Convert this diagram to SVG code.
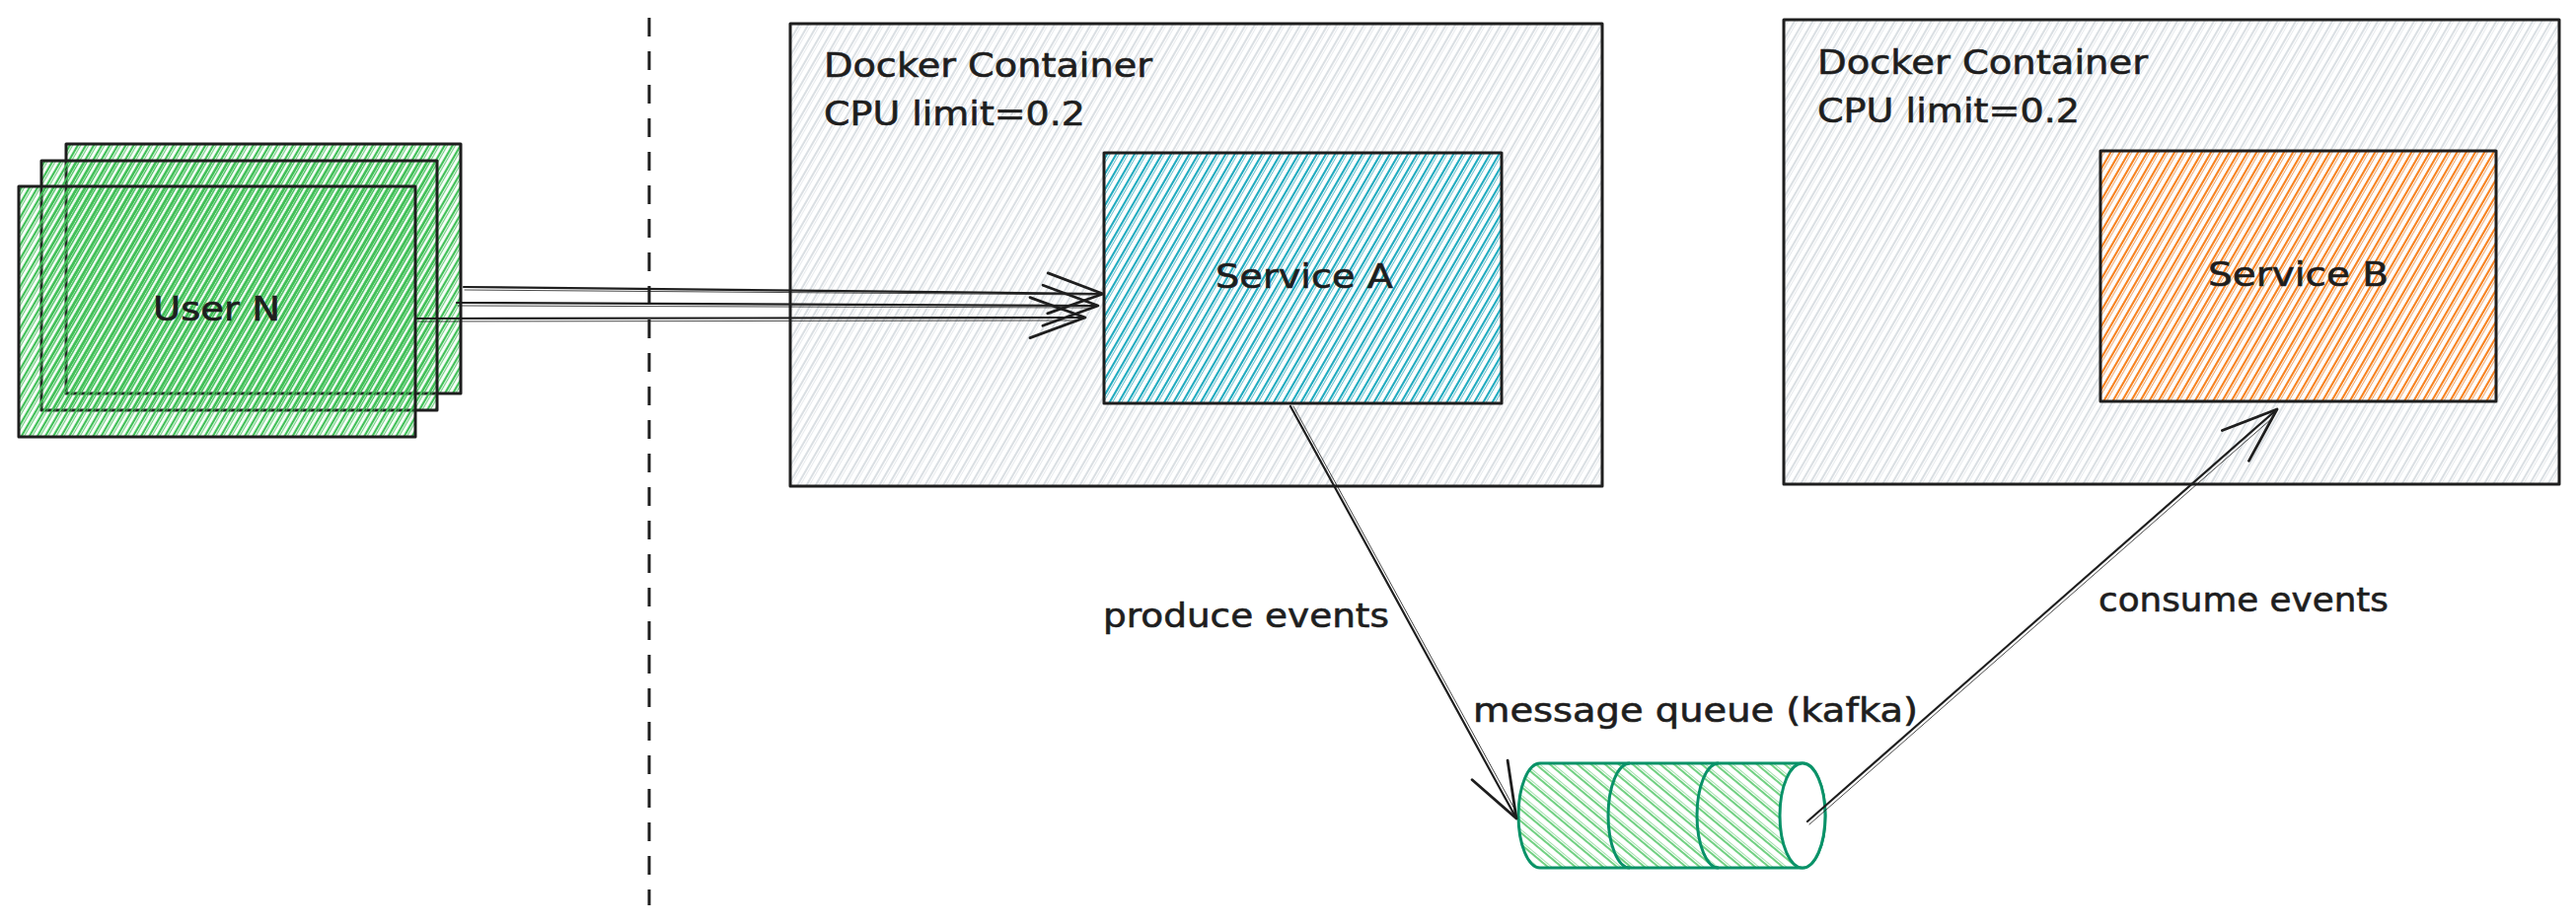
<svg xmlns="http://www.w3.org/2000/svg" width="2611" height="937" viewBox="0 0 2611 937">
<style>
.box{stroke:#1e1e1e;stroke-width:3;stroke-linejoin:round}
.lbl{font-family:"DejaVu Sans","Liberation Sans",sans-serif;font-size:33px;fill:#1e1e1e;stroke:#1e1e1e;stroke-width:0.6}
.con{fill:none;stroke:#1e1e1e;stroke-width:2.2;stroke-linecap:round}
.con2{fill:none;stroke:#1e1e1e;stroke-width:1;stroke-linecap:round;opacity:0.8}
.cyl{stroke:#099268;stroke-width:3;stroke-linejoin:round}
</style>
<defs>
<pattern id="hGray" width="8" height="8" patternUnits="userSpaceOnUse" patternTransform="rotate(30)">
<line x1="2" y1="0" x2="2" y2="8" stroke="#ced4da" stroke-width="1.5"/>
<line x1="4.4" y1="0" x2="4.4" y2="8" stroke="#ced4da" stroke-width="0.7" opacity="0.8"/>
</pattern>
<pattern id="hGreen" width="7" height="7" patternUnits="userSpaceOnUse" patternTransform="rotate(30)">
<line x1="2" y1="0" x2="2" y2="7" stroke="#40c057" stroke-width="2.3"/>
<line x1="4.6" y1="0" x2="4.6" y2="7" stroke="#40c057" stroke-width="1" opacity="0.8"/>
</pattern>
<pattern id="hCyan" width="8" height="8" patternUnits="userSpaceOnUse" patternTransform="rotate(30)">
<line x1="2" y1="0" x2="2" y2="8" stroke="#15aabf" stroke-width="1.9"/>
<line x1="4.6" y1="0" x2="4.6" y2="8" stroke="#15aabf" stroke-width="0.8" opacity="0.8"/>
</pattern>
<pattern id="hOrange" width="8" height="8" patternUnits="userSpaceOnUse" patternTransform="rotate(30)">
<line x1="2" y1="0" x2="2" y2="8" stroke="#fd7e14" stroke-width="1.9"/>
<line x1="4.6" y1="0" x2="4.6" y2="8" stroke="#fd7e14" stroke-width="0.8" opacity="0.8"/>
</pattern>
<pattern id="hCyl" width="9" height="9" patternUnits="userSpaceOnUse" patternTransform="rotate(-50)">
<line x1="2" y1="0" x2="2" y2="9" stroke="#40c057" stroke-width="1.5"/>
<line x1="4.5" y1="0" x2="4.5" y2="9" stroke="#40c057" stroke-width="0.7" opacity="0.7"/>
</pattern>
<marker id="ah" markerUnits="userSpaceOnUse" markerWidth="80" markerHeight="60" viewBox="-70 -30 80 60" refX="0" refY="0" orient="auto" overflow="visible">
<path d="M -56 -20.5 L 0 0 L -56 20.5" fill="none" stroke="#1e1e1e" stroke-width="2.8" stroke-linecap="round" stroke-linejoin="round"/>
</marker>
</defs>
<rect width="2611" height="937" fill="#ffffff"/>

<g id="divider">
<line x1="658" y1="18" x2="658" y2="918" stroke="#1e1e1e" stroke-width="3" stroke-dasharray="19 15"/>
</g>

<g id="containerA">
<rect class="box" x="801" y="24" width="823" height="469" fill="url(#hGray)"/>
<text class="lbl" x="835" y="78" textLength="333" lengthAdjust="spacingAndGlyphs">Docker Container</text>
<text class="lbl" x="835" y="127" textLength="265" lengthAdjust="spacingAndGlyphs">CPU limit=0.2</text>
</g>

<g id="containerB">
<rect class="box" x="1808" y="20" width="786" height="471" fill="url(#hGray)"/>
<text class="lbl" x="1842" y="75" textLength="335" lengthAdjust="spacingAndGlyphs">Docker Container</text>
<text class="lbl" x="1842" y="124" textLength="266" lengthAdjust="spacingAndGlyphs">CPU limit=0.2</text>
</g>

<g id="serviceA">
<rect class="box" x="1119" y="155" width="403" height="254" fill="url(#hCyan)"/>
<text class="lbl" x="1232" y="292" textLength="180" lengthAdjust="spacingAndGlyphs">Service A</text>
</g>

<g id="serviceB">
<rect class="box" x="2129" y="153" width="401" height="254" fill="url(#hOrange)"/>
<text class="lbl" x="2238" y="290" textLength="183" lengthAdjust="spacingAndGlyphs">Service B</text>
</g>

<g id="users">
<rect class="box" x="67" y="146" width="400" height="253" fill="url(#hGreen)"/>
<rect class="box" x="42" y="163" width="401" height="253" fill="url(#hGreen)"/>
<rect class="box" x="19" y="189" width="402" height="254" fill="url(#hGreen)"/>
<text class="lbl" x="155" y="325" textLength="129" lengthAdjust="spacingAndGlyphs">User N</text>
</g>

<g id="queue">
<path class="cyl" d="M 1561 774 L 1827 774 A 23 53 0 0 1 1827 880 L 1561 880 A 22 53 0 0 1 1561 774 Z" fill="url(#hCyl)"/>
<path class="cyl" d="M 1652 774 A 22 53 0 0 0 1652 880" fill="none"/>
<path class="cyl" d="M 1742 774 A 22 53 0 0 0 1742 880" fill="none"/>
<ellipse class="cyl" cx="1827" cy="827" rx="23" ry="53" fill="#ffffff"/>
<text class="lbl" x="1493" y="732" textLength="451" lengthAdjust="spacingAndGlyphs">message queue (kafka)</text>
</g>

<g id="connectors">
<path class="con" d="M 470 291 L 1118 298" marker-end="url(#ah)"/>
<path class="con2" d="M 471 294 L 1110 299"/>
<path class="con" d="M 463 307 L 1113 310" marker-end="url(#ah)"/>
<path class="con2" d="M 464 310 L 1105 312"/>
<path class="con" d="M 423 323 L 1100 322" marker-end="url(#ah)"/>
<path class="con2" d="M 424 326 L 1092 325"/>
<path class="con" d="M 1308 412 L 1537 830" marker-end="url(#ah)"/>
<path class="con2" d="M 1311 412 L 1536 822"/>
<path class="con" d="M 1832 833 L 2308 415" marker-end="url(#ah)"/>
<path class="con2" d="M 1834 836 L 2302 425"/>
<text class="lbl" x="1118" y="636" textLength="290" lengthAdjust="spacingAndGlyphs">produce events</text>
<text class="lbl" x="2127" y="620" textLength="294" lengthAdjust="spacingAndGlyphs">consume events</text>
</g>
</svg>
